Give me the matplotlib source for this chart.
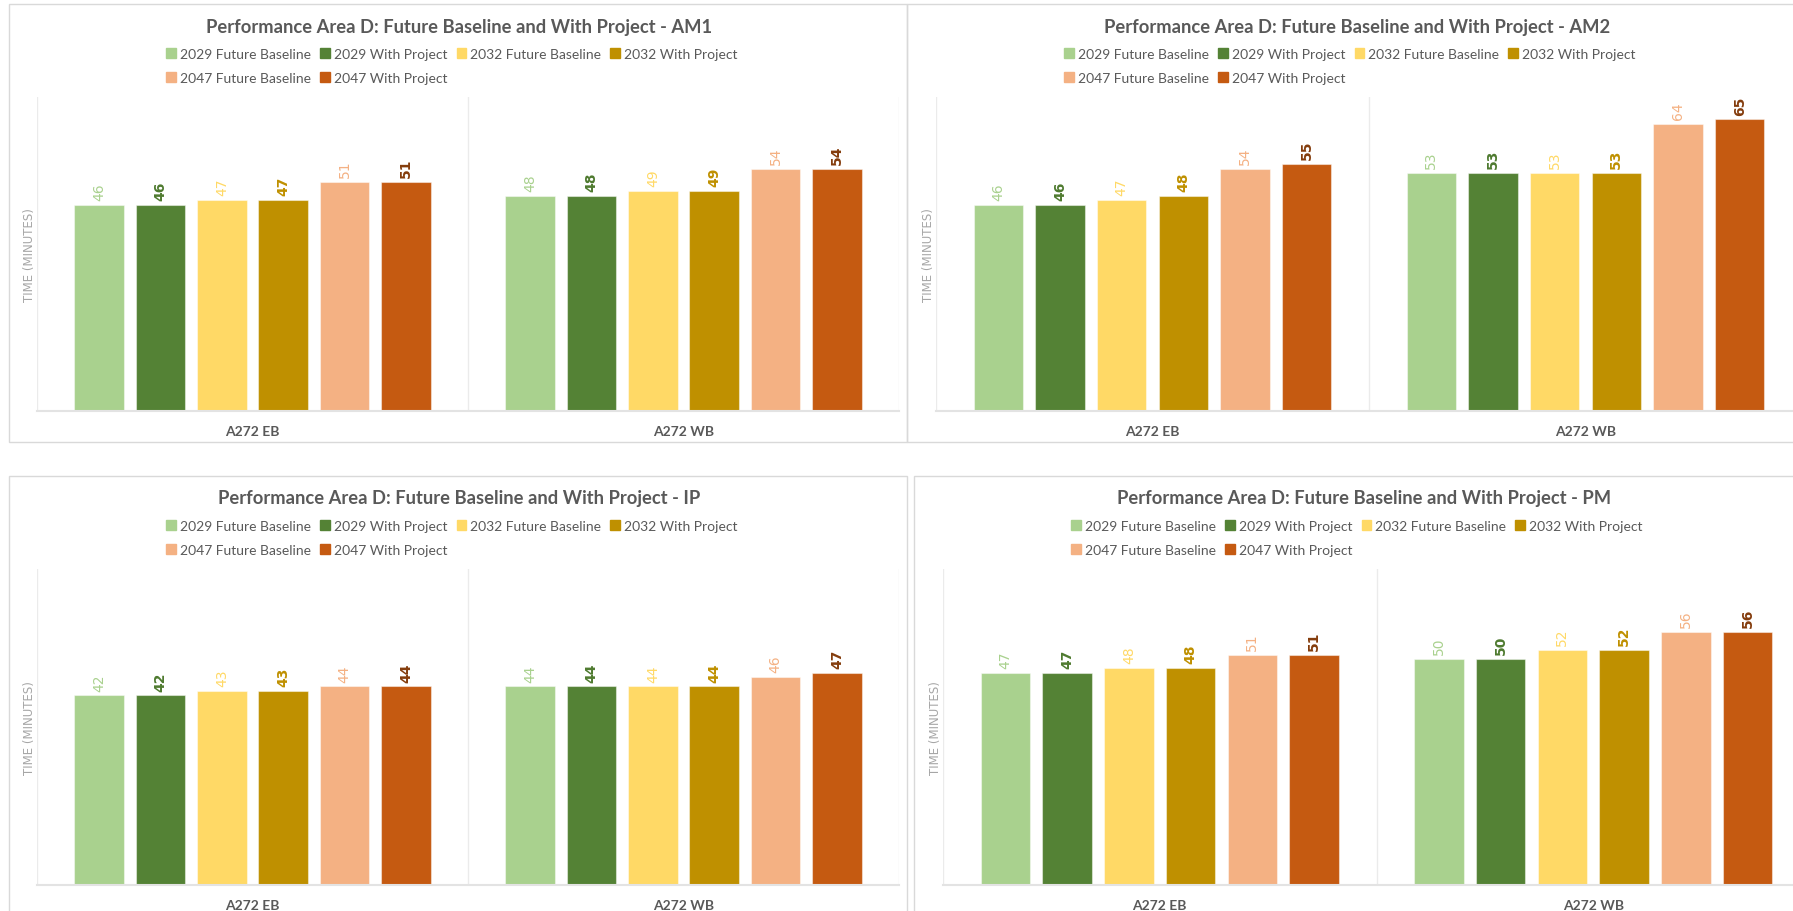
import matplotlib

matplotlib.use("Agg")
import matplotlib.pyplot as plt
import numpy as np
from matplotlib.patches import Patch, Rectangle

plt.rcParams["font.family"] = ["Lato", "DejaVu Sans"]

# 数据
categories = ["A272 EB", "A272 WB"]
series = [
    "2029 Future Baseline",
    "2029 With Project",
    "2032 Future Baseline",
    "2032 With Project",
    "2047 Future Baseline",
    "2047 With Project",
]
bar_colors = ["#A9D18E", "#548235", "#FFD966", "#BF9000", "#F4B183", "#C55A11"]
label_colors = ["#A9D18E", "#4E7A2F", "#FFD966", "#BF9000", "#F4B183", "#843C0C"]

am1_eb = [46, 46, 47, 47, 51, 51]
am1_wb = [48, 48, 49, 49, 54, 54]
am2_eb = [46, 46, 47, 48, 54, 55]
am2_wb = [53, 53, 53, 53, 64, 65]
ip_eb = [42, 42, 43, 43, 44, 44]
ip_wb = [44, 44, 44, 44, 46, 47]
pm_eb = [47, 47, 48, 48, 51, 51]
pm_wb = [50, 50, 52, 52, 56, 56]

# 画布（像素坐标辅助）
W, H = 1793, 912
fig = plt.figure(figsize=(W / 100, H / 100), dpi=100)
fig.patch.set_facecolor("white")


def fx(x):
    return x / W


def fy(y):
    return 1 - y / H


TEXT = "#595959"
step = 0.1424
width = 0.1146


def draw_panel(panel, plot, title, eb, wb):
    pl, pt, pr, pb = panel
    fig.add_artist(
        Rectangle(
            (fx(pl), fy(pb)),
            (pr - pl) / W,
            (pb - pt) / H,
            transform=fig.transFigure,
            fill=False,
            ec="#D9D9D9",
            lw=1,
        )
    )
    l, t, r, b = plot
    ax = fig.add_axes([fx(l), fy(b), (r - l) / W, (b - t) / H])
    x = np.arange(len(categories))
    vals = np.array([eb, wb])
    for j, name in enumerate(series):
        xs = x + (j - 2.5) * step
        bars = ax.bar(
            xs,
            vals[:, j],
            width,
            color=bar_colors[j],
            edgecolor=(1, 1, 1, 0.45),
            lw=0.8,
            label=name,
            zorder=2,
        )
        bold = j % 2 == 1
        for rect, v in zip(bars, vals[:, j]):
            ax.annotate(
                f"{v:.0f}",
                (rect.get_x() + rect.get_width() / 2, v),
                xytext=(0, 3.5),
                textcoords="offset points",
                rotation=90,
                ha="center",
                va="bottom",
                fontsize=10,
                family="DejaVu Sans",
                fontweight="bold" if bold else "normal",
                color=label_colors[j],
            )
    ax.set_xlim(-0.5, 1.5)
    ax.set_ylim(0, 70)
    ax.set_xticks(x)
    ax.set_xticklabels(categories, fontsize=10, fontweight="bold", color=TEXT)
    ax.set_xticks([-0.5, 0.5, 1.5], minor=True)
    ax.set_yticks([])
    ax.tick_params(which="both", length=0, pad=10)
    ax.grid(which="minor", axis="x", color="#EBEBEB", lw=1)
    ax.set_axisbelow(True)
    for s in ["top", "right", "left"]:
        ax.spines[s].set_visible(False)
    ax.spines["bottom"].set_color("#E3E3E3")
    ax.spines["bottom"].set_linewidth(1.5)
    ax.set_ylabel(
        "TIME (MINUTES)", fontsize=8.5, family="DejaVu Sans", color="#A6A6A6", labelpad=1
    )

    # 标题与图例
    fig.text(
        fx(pl + 450),
        fy(pt + 22),
        title,
        ha="center",
        va="center",
        fontsize=13.2,
        fontweight="bold",
        color=TEXT,
    )
    handles = [Patch(color=c) for c in bar_colors]
    order = [0, 4, 1, 5, 2, 3]
    fig.legend(
        [handles[i] for i in order],
        [series[i] for i in order],
        ncol=4,
        loc="center",
        bbox_to_anchor=(fx(pl + 443), fy(pt + 62)),
        frameon=False,
        fontsize=10,
        handlelength=0.7,
        handleheight=0.7,
        handletextpad=0.3,
        columnspacing=0.65,
        labelspacing=0.85,
        labelcolor=TEXT,
        borderpad=0,
    )
    return ax


draw_panel(
    (9, 5, 907, 443),
    (37, 98, 899, 412),
    "Performance Area D: Future Baseline and With Project - AM1",
    am1_eb,
    am1_wb,
)
draw_panel(
    (907, 5, 1801, 443),
    (936, 98, 1802, 412),
    "Performance Area D: Future Baseline and With Project - AM2",
    am2_eb,
    am2_wb,
)
draw_panel(
    (9, 477, 907, 915),
    (37, 570, 899, 886),
    "Performance Area D: Future Baseline and With Project - IP",
    ip_eb,
    ip_wb,
)
draw_panel(
    (914, 477, 1808, 915),
    (943, 570, 1810, 886),
    "Performance Area D: Future Baseline and With Project - PM",
    pm_eb,
    pm_wb,
)

plt.savefig("out.png", dpi=100)
